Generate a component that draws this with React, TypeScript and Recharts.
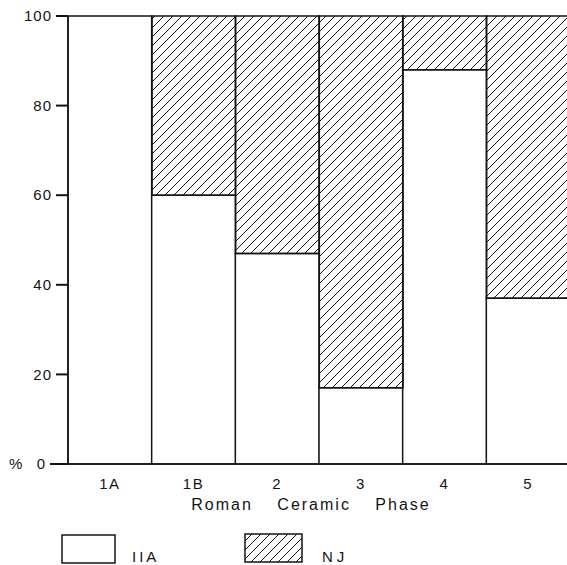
import React from "react";
import { BarChart, Bar, XAxis, YAxis } from "recharts";

const phases = ["1A", "1B", "2", "3", "4", "5"];
const iiaShare = [100, 60, 47, 17, 88, 37];
const njShare = [0, 40, 53, 83, 12, 63];
const yTicks = [0, 20, 40, 60, 80, 100];

const INK = "#141414";
const FONT = "'Liberation Sans', Arial, sans-serif";

const data = phases.map((phase, i) => ({
  phase,
  IIA: iiaShare[i],
  NJ: njShare[i],
}));

function Hatch({ id }: { id: string }) {
  return (
    <pattern id={id} patternUnits="userSpaceOnUse" width={9} height={9}>
      <path
        d="M0,9 L9,0 M-2,2 L2,-2 M7,11 L11,7"
        stroke={INK}
        strokeWidth={1}
      />
    </pattern>
  );
}

// y tick: label + tick mark drawn here so the "% 0" case can be handled
function YTick(props: any) {
  const { y, payload } = props;
  const v = payload.value;
  return (
    <g>
      <line x1={v === 0 ? 50 : 56} x2={68} y1={y} y2={y} stroke={INK} strokeWidth={2} />
      {v === 0 && (
        <text x={9} y={y} dy="0.35em" fontSize={15} fill={INK} fontFamily={FONT}>
          %
        </text>
      )}
      <text
        x={v === 0 ? 46 : 52}
        y={y}
        dy="0.35em"
        textAnchor="end"
        fontSize={15}
        fill={INK}
        fontFamily={FONT}
        letterSpacing={1}
      >
        {String(v)}
      </text>
    </g>
  );
}

function AxisTitle(props: any) {
  const { viewBox } = props;
  return (
    <text
      x={311}
      y={viewBox.y + 46}
      textAnchor="middle"
      fontSize={16}
      fill={INK}
      fontFamily={FONT}
      style={{ letterSpacing: "2px", wordSpacing: "18px" }}
    >
      Roman Ceramic Phase
    </text>
  );
}

export default function App() {
  return (
    <div
      style={{
        position: "absolute",
        left: 0,
        top: 0,
        width: 567,
        height: 565,
        overflow: "hidden",
        background: "#fff",
      }}
    >
      <BarChart
        width={570}
        height={565}
        data={data}
        barCategoryGap={0}
        margin={{ top: 16, right: 0, bottom: 41, left: 0 }}
      >
        <defs>
          <Hatch id="njHatch" />
        </defs>
        <XAxis
          dataKey="phase"
          height={60}
          axisLine={{ stroke: INK, strokeWidth: 1.5 }}
          tickLine={false}
          tickMargin={8}
          tick={{ fill: INK, fontSize: 15, fontFamily: FONT, letterSpacing: 1.5 }}
          label={<AxisTitle />}
        />
        <YAxis
          width={68}
          domain={[0, 100]}
          ticks={yTicks}
          tickLine={false}
          axisLine={{ stroke: INK, strokeWidth: 1.5 }}
          tick={<YTick />}
          interval={0}
        />
        <Bar
          dataKey="IIA"
          stackId="p"
          fill="#fff"
          stroke={INK}
          strokeWidth={1.5}
          isAnimationActive={false}
        />
        <Bar
          dataKey="NJ"
          stackId="p"
          fill="url(#njHatch)"
          stroke={INK}
          strokeWidth={1.5}
          isAnimationActive={false}
        />
      </BarChart>
      <svg
        width={567}
        height={40}
        style={{ position: "absolute", left: 0, top: 525 }}
      >
        <defs>
          <Hatch id="legendHatch" />
        </defs>
        <rect x={62} y={10} width={53} height={28} fill="#fff" stroke={INK} strokeWidth={1.5} />
        <text x={132} y={37} fontSize={15} fill={INK} fontFamily={FONT} letterSpacing={3}>
          IIA
        </text>
        <rect x={245} y={9} width={57} height={28} fill="url(#legendHatch)" stroke={INK} strokeWidth={1.5} />
        <text x={322} y={37} fontSize={15} fill={INK} fontFamily={FONT} letterSpacing={4}>
          NJ
        </text>
      </svg>
    </div>
  );
}
